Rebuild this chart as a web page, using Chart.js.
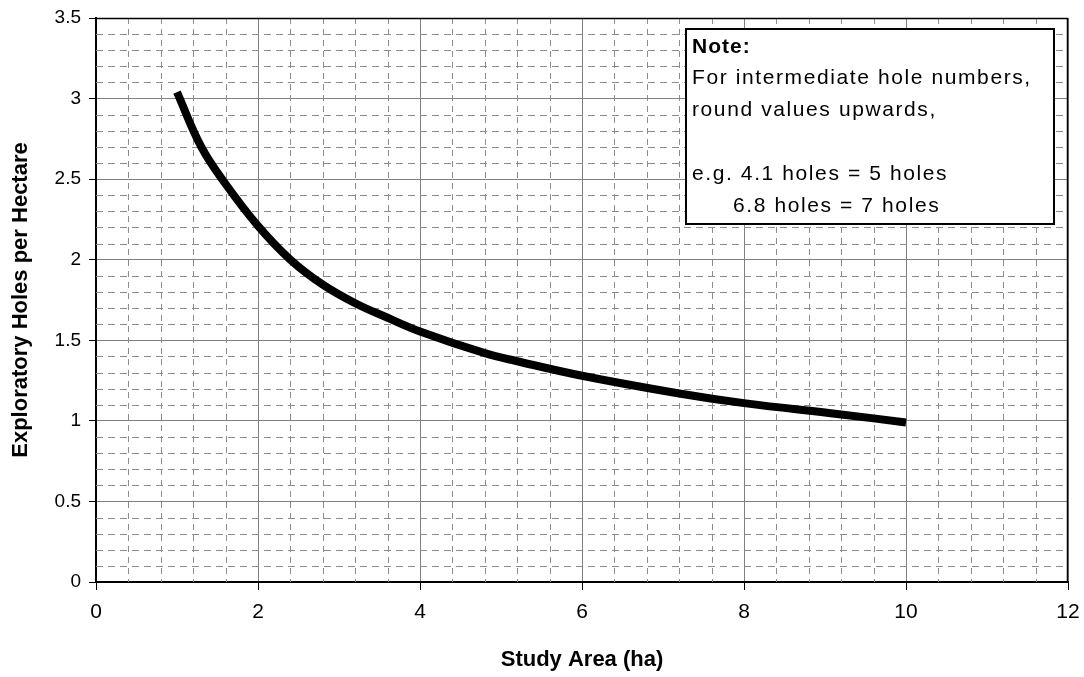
<!DOCTYPE html>
<html>
<head>
<meta charset="utf-8">
<script src="https://cdn.jsdelivr.net/npm/chart.js@4"></script>
<style>
  html, body { margin: 0; padding: 0; background: #ffffff; }
  #wrap { width: 1084px; height: 677px; position: relative; }
</style>
</head>
<body>
<div id="wrap"><canvas id="c" width="1084" height="677"></canvas></div>
<script>
// ---- data ----
const studyArea = [1, 1.3, 1.6, 2, 2.4, 2.8, 3.2, 3.6, 4, 4.8, 5.2, 6, 7.2, 8, 9.2, 10];
const holesPerHa = [3.04, 2.70, 2.47, 2.21, 2.0, 1.845, 1.73, 1.64, 1.555, 1.42, 1.37, 1.28, 1.17, 1.11, 1.04, 0.99];
const xTicks = [0, 2, 4, 6, 8, 10, 12];
const yTicks = [0, 0.5, 1, 1.5, 2, 2.5, 3, 3.5];
const xTitle = 'Study Area (ha)';
const yTitle = 'Exploratory Holes per Hectare';
const noteTitle = 'Note:';
const noteLines = ['For intermediate hole numbers,', 'round values upwards,', 'e.g. 4.1 holes = 5 holes', '6.8 holes = 7 holes'];

const points = studyArea.map((x, i) => ({ x: x, y: holesPerHa[i] }));

const FONT = '"Liberation Sans", Arial, sans-serif';

// minor dashed grid (drawn through the scales) + frame + note box
const minorGrid = {
  id: 'minorGrid',
  beforeDatasetsDraw(chart) {
    const { ctx, chartArea: a, scales: { x, y } } = chart;
    ctx.save();
    ctx.strokeStyle = '#8c8c8c';
    ctx.lineWidth = 1;
    ctx.setLineDash([6, 5]);
    for (let i = 1; i < 30; i++) {
      if (i % 5 === 0) continue;
      const px = Math.round(x.getPixelForValue(i * 0.4)) + 0.5;
      ctx.beginPath();
      ctx.moveTo(px, a.top);
      ctx.lineTo(px, a.bottom);
      ctx.stroke();
    }
    ctx.setLineDash([7, 5]);
    for (let j = 1; j < 35; j++) {
      if (j % 5 === 0) continue;
      const py = Math.round(y.getPixelForValue(j * 0.1)) + 0.5;
      ctx.beginPath();
      ctx.moveTo(a.left, py);
      ctx.lineTo(a.right, py);
      ctx.stroke();
    }
    ctx.restore();
  },
  afterDatasetsDraw(chart) {
    const { ctx, chartArea: a } = chart;
    ctx.save();
    ctx.strokeStyle = '#000';
    ctx.lineWidth = 1.5;
    ctx.beginPath();
    ctx.moveTo(a.left, a.top + 0.5);
    ctx.lineTo(a.right - 0.5, a.top + 0.5);
    ctx.lineTo(a.right - 0.5, a.bottom);
    ctx.stroke();
    // note box
    const bx = 686, by = 29, bw = 368, bh = 195;
    ctx.fillStyle = '#fff';
    ctx.fillRect(bx, by, bw, bh);
    ctx.lineWidth = 2;
    ctx.strokeRect(bx, by, bw, bh);
    ctx.fillStyle = '#000';
    ctx.textBaseline = 'alphabetic';
    ctx.textAlign = 'left';
    try { ctx.letterSpacing = '1px'; } catch (e) {}
    ctx.font = 'bold 21px ' + FONT;
    ctx.fillText(noteTitle, 692, 53);
    try { ctx.letterSpacing = '1.6px'; } catch (e) {}
    ctx.font = '21px ' + FONT;
    const baselines = [84, 116, 180, 212];
    const indents = [692, 692, 692, 733];
    noteLines.forEach((t, k) => ctx.fillText(t, indents[k], baselines[k]));
    ctx.restore();
  }
};

new Chart(document.getElementById('c'), {
  type: 'line',
  data: {
    datasets: [{
      data: points,
      borderColor: '#000',
      borderWidth: 8,
      pointRadius: 0,
      fill: false,
      tension: 0.4,
      borderCapStyle: 'butt',
      borderJoinStyle: 'round'
    }]
  },
  options: {
    responsive: false,
    animation: false,
    devicePixelRatio: 1,
    layout: { padding: { top: 18, right: 16, left: 0, bottom: 0 } },
    plugins: { legend: { display: false }, tooltip: { enabled: false } },
    scales: {
      x: {
        type: 'linear',
        min: 0, max: 12,
        afterBuildTicks: (s) => { s.ticks = xTicks.map(v => ({ value: v })); },
        afterFit: (s) => { s.height = 95; s.paddingLeft = 0; s.paddingRight = 0; },
        grid: { color: '#808080', lineWidth: 1, tickColor: '#000', tickLength: 8 },
        border: { color: '#000', width: 2 },
        ticks: {
          color: '#000',
          padding: 10,
          maxRotation: 0,
          font: { family: FONT, size: 21 }
        },
        title: {
          display: true,
          text: xTitle,
          color: '#000',
          padding: { top: 0, bottom: 4 },
          font: { family: FONT, size: 22, weight: 'bold' }
        }
      },
      y: {
        type: 'linear',
        min: 0, max: 3.5,
        afterBuildTicks: (s) => { s.ticks = yTicks.map(v => ({ value: v })); },
        afterFit: (s) => { s.width = 96; s.paddingTop = 0; s.paddingBottom = 0; },
        grid: { color: '#808080', lineWidth: 1, tickColor: '#000', tickLength: 7 },
        border: { color: '#000', width: 2 },
        ticks: {
          color: '#000',
          padding: 8,
          font: { family: FONT, size: 19 },
          callback: (v) => String(v)
        },
        title: {
          display: true,
          text: yTitle,
          color: '#000',
          padding: { top: 8, bottom: 0 },
          font: { family: FONT, size: 22, weight: 'bold' }
        }
      }
    }
  },
  plugins: [minorGrid]
});
</script>
</body>
</html>
